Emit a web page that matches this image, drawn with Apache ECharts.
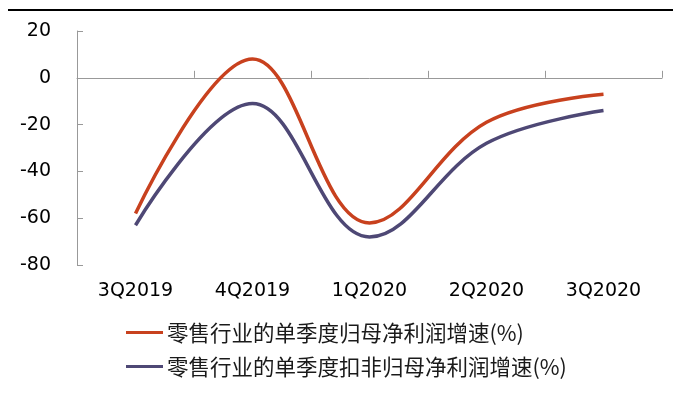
<!DOCTYPE html>
<html>
<head>
<meta charset="utf-8">
<script src="https://cdn.jsdelivr.net/npm/echarts@6/dist/echarts.min.js"></script>
<style>
  html, body { margin: 0; padding: 0; background: #fff; }
  #chart { width: 673px; height: 414px; }
</style>
</head>
<body>
<div id="chart"></div>
<script>
// Quarterly categories
const quarters = ['3Q2019', '4Q2019', '1Q2020', '2Q2020', '3Q2020'];
// Single-quarter net profit growth attributable to parent (%)
const netProfitGrowth = [-58, 8, -62, -19, -7];
// Single-quarter net profit growth excluding non-recurring items (%)
const deductedProfitGrowth = [-63, -11, -68, -28, -14];
// Y axis range
const yMin = -80, yMax = 20, yStep = 20;

const seriesNames = ['零售行业的单季度归母净利润增速(%)', '零售行业的单季度扣非归母净利润增速(%)'];
const colors = ['#C8411E', '#4E4875'];

const chart = echarts.init(document.getElementById('chart'), null, { renderer: 'canvas' });
const axisGray = '#999999';
const numFont = 'DejaVu Sans';

chart.setOption({
  animation: false,
  backgroundColor: '#ffffff',
  grid: { left: 77, right: 11, top: 31, bottom: 149, containLabel: false },
  graphic: [{
    type: 'line',
    shape: { x1: 8, y1: 10, x2: 673, y2: 10 },
    style: { stroke: '#000', lineWidth: 2 }
  }],
  legend: {
    orient: 'vertical',
    left: 121,
    top: 315,
    itemWidth: 37,
    itemHeight: 3,
    itemGap: 9,
    icon: 'rect',
    textStyle: {
      fontFamily: 'Noto Sans CJK SC',
      fontSize: 21.5,
      lineHeight: 25,
      color: '#1a1a1a',
      padding: [0, 0, 0, -1]
    },
    data: seriesNames
  },
  xAxis: [{
    type: 'category',
    data: quarters,
    boundaryGap: true,
    axisLine: { onZero: true, lineStyle: { color: axisGray, width: 1 } },
    axisTick: { show: true, inside: true, length: 7, alignWithLabel: false, lineStyle: { color: axisGray } },
    axisLabel: { show: false },
    splitLine: { show: false }
  }, {
    type: 'category',
    data: quarters,
    position: 'bottom',
    boundaryGap: true,
    axisLine: { show: false, onZero: false },
    axisTick: { show: false },
    axisLabel: { show: true, margin: 17, fontFamily: numFont, fontSize: 19, color: '#000' },
    splitLine: { show: false }
  }],
  yAxis: {
    type: 'value',
    min: yMin,
    max: yMax,
    interval: yStep,
    axisLine: { show: true, lineStyle: { color: axisGray, width: 1 } },
    axisTick: { show: true, inside: true, length: 6, lineStyle: { color: axisGray } },
    axisLabel: { margin: 26, fontFamily: numFont, fontSize: 19, color: '#000' },
    splitLine: { show: false }
  },
  series: [{
    name: seriesNames[0],
    type: 'line',
    xAxisIndex: 0,
    data: netProfitGrowth,
    smooth: 0.38,
    symbol: 'none',
    lineStyle: { color: colors[0], width: 3.5 },
    itemStyle: { color: colors[0] }
  }, {
    name: seriesNames[1],
    type: 'line',
    xAxisIndex: 0,
    data: deductedProfitGrowth,
    smooth: 0.38,
    symbol: 'none',
    lineStyle: { color: colors[1], width: 3.5 },
    itemStyle: { color: colors[1] }
  }]
});
</script>
</body>
</html>
